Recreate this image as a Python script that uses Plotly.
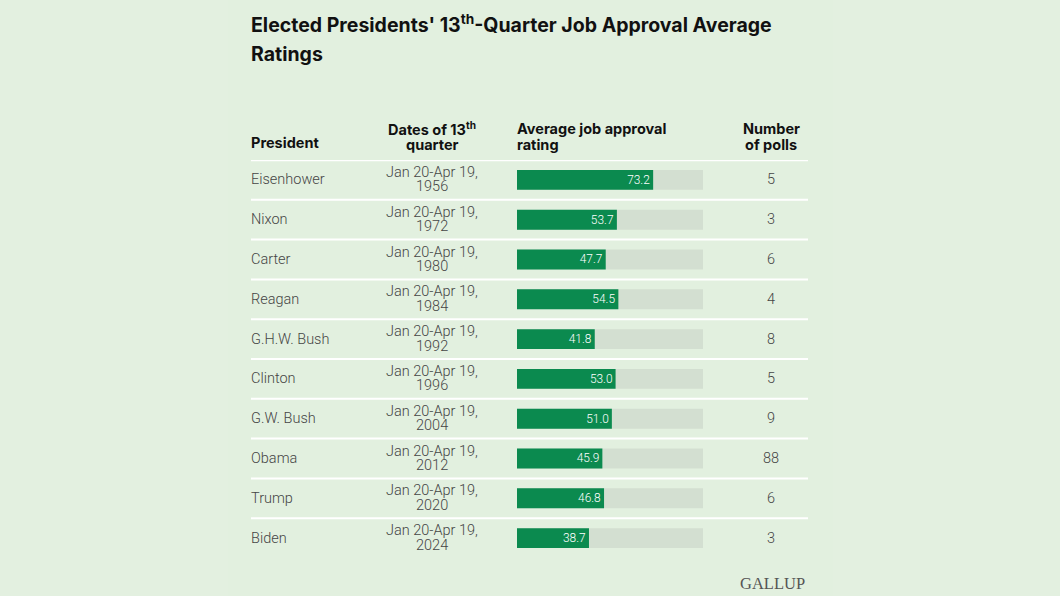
import plotly.graph_objects as go

W, H = 1060, 596

presidents = ["Eisenhower", "Nixon", "Carter", "Reagan", "G.H.W. Bush",
              "Clinton", "G.W. Bush", "Obama", "Trump", "Biden"]
years = ["1956", "1972", "1980", "1984", "1992", "1996", "2004", "2012", "2020", "2024"]
approval = [73.2, 53.7, 47.7, 54.5, 41.8, 53.0, 51.0, 45.9, 46.8, 38.7]
polls = [5, 3, 6, 4, 8, 5, 9, 88, 6, 3]

GREEN = "#0b8a4f"
TRACK = "#d3dfd1"
BG = "#e3f0e0"
INK = "#111111"
BODY = "#454545"


def px(x):
    return x / W


def py(y):
    return 1 - y / H


fig = go.Figure()

fig.add_trace(go.Bar(
    y=presidents, x=[100] * len(presidents), orientation="h",
    marker=dict(color=TRACK, line=dict(width=0)), width=0.5,
    hoverinfo="skip", showlegend=False,
))
fig.add_trace(go.Bar(
    y=presidents, x=approval, orientation="h",
    marker=dict(color=GREEN, line=dict(width=0)), width=0.5,
    text=[f"{v:.1f}" for v in approval],
    textposition="inside", insidetextanchor="end",
    textfont=dict(family="Roboto", size=12, color="white", weight=300),
    showlegend=False,
))

body_font = dict(family="Roboto", size=14.5, color=BODY, weight=300)
annotations = []
for name, yr, n in zip(presidents, years, polls):
    annotations.append(dict(
        x=px(251), y=name, xref="paper", yref="y", text=name,
        xanchor="left", yanchor="middle", xshift=-2, showarrow=False,
        font=body_font))
    annotations.append(dict(
        x=px(432), y=name, xref="paper", yref="y", text="Jan 20-Apr 19,",
        xanchor="center", yanchor="middle", yshift=7.5, showarrow=False,
        font=body_font))
    annotations.append(dict(
        x=px(432), y=name, xref="paper", yref="y", text=yr,
        xanchor="center", yanchor="middle", yshift=-7, showarrow=False,
        font=body_font))
    annotations.append(dict(
        x=px(771), y=name, xref="paper", yref="y", text=str(n),
        xanchor="center", yanchor="middle", showarrow=False, font=body_font))

head_font = dict(family="Inter", size=14.5, color=INK, weight=700)
header_lines = [
    (251, 143, "President", "left"),
    (432, 128, "Dates of 13<sup>th</sup>", "center"),
    (432, 144, "quarter", "center"),
    (517, 128, "Average job approval", "left"),
    (517, 144, "rating", "left"),
    (771, 128, "Number", "center"),
    (771, 144, "of polls", "center"),
]
for x, y, txt, anchor in header_lines:
    annotations.append(dict(
        x=px(x), y=py(y), xref="paper", yref="paper", text=txt,
        xanchor=anchor, yanchor="middle", showarrow=False, font=head_font,
        xshift=-2 if anchor == "left" else 0))

title_font = dict(family="Inter", size=19.5, color=INK, weight=700)
annotations += [
    dict(x=px(251), y=py(24), xref="paper", yref="paper",
         text="Elected Presidents' 13<sup>th</sup>-Quarter Job Approval Average",
         xanchor="left", yanchor="middle", xshift=-2, showarrow=False,
         font=title_font),
    dict(x=px(251), y=py(54), xref="paper", yref="paper", text="Ratings",
         xanchor="left", yanchor="middle", xshift=-2, showarrow=False,
         font=title_font),
    dict(x=px(807), y=py(583), xref="paper", yref="paper", text="GALLUP",
         xanchor="right", yanchor="middle", showarrow=False,
         font=dict(family="Liberation Serif", size=16.5, color="#555555")),
]

shapes = [
    dict(type="rect", xref="paper", yref="paper", x0=px(228), x1=px(833),
         y0=0, y1=1, fillcolor="#e2f0df", line=dict(width=0), layer="below"),
    dict(type="line", xref="paper", yref="y", x0=px(251), x1=px(808),
         y0=-0.5, y1=-0.5, line=dict(color="white", width=2.5)),
]
for i in range(len(presidents) - 1):
    shapes.append(dict(type="line", xref="paper", yref="y",
                       x0=px(251), x1=px(808), y0=i + 0.5, y1=i + 0.5,
                       line=dict(color="white", width=2)))

fig.update_layout(
    width=W, height=H,
    margin=dict(l=0, r=0, t=0, b=0),
    paper_bgcolor=BG, plot_bgcolor="rgba(0,0,0,0)",
    barmode="overlay",
    xaxis=dict(domain=[px(517), px(703)], range=[0, 100], visible=False, fixedrange=True),
    yaxis=dict(domain=[py(558), py(160)], range=[len(presidents) - 0.5, -0.5],
               type="category", visible=False, fixedrange=True),
    annotations=annotations, shapes=shapes,
    showlegend=False,
)

# drop the browser's default page margin so the figure sits at the window corner
fig.write_html("out.html", config={"displayModeBar": False},
               post_script="document.body.style.margin='0';document.body.style.overflow='hidden';")
